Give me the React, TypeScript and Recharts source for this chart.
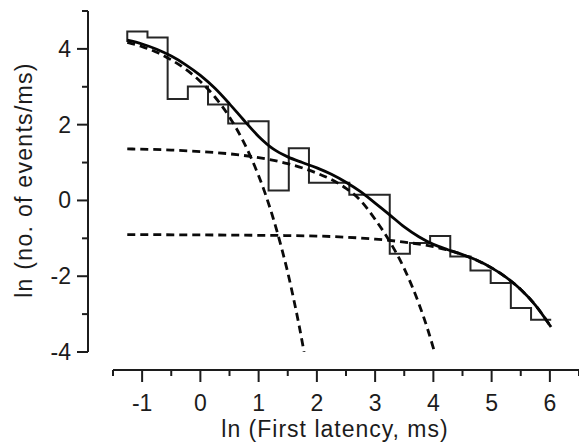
import React from 'react';
import { ComposedChart, Line, XAxis, YAxis } from 'recharts';

// Histogram (ln of events/ms per log bin)
const histEdges = [-1.255, -0.908, -0.562, -0.215, 0.131, 0.478, 0.824, 1.171, 1.518, 1.864, 2.211, 2.557, 2.904, 3.251, 3.597, 3.944, 4.29, 4.637, 4.984, 5.33, 5.677, 6.023];
const histValues = [4.46, 4.3, 2.68, 3.01, 2.53, 2.03, 2.09, 0.26, 1.38, 0.47, 0.47, 0.15, 0.15, -1.41, -1.12, -0.94, -1.48, -1.85, -2.18, -2.84, -3.15];
const histStart = 4.18;

// Total fit (solid)
const totalX = [-1.255, -1.0, -0.75, -0.5, -0.25, 0, 0.25, 0.5, 0.75, 1.0, 1.25, 1.5, 1.75, 2.0, 2.25, 2.5, 2.75, 3.0, 3.25, 3.5, 3.75, 4.0, 4.25, 4.5, 4.75, 5.0, 5.25, 5.5, 5.75, 6.02];
const totalY = [4.23, 4.13, 3.99, 3.81, 3.58, 3.3, 2.96, 2.55, 2.11, 1.69, 1.36, 1.15, 1.0, 0.86, 0.69, 0.48, 0.23, -0.07, -0.38, -0.7, -0.96, -1.16, -1.3, -1.43, -1.58, -1.78, -2.03, -2.35, -2.76, -3.34];

// Fast component (dashed)
const fastX = [-1.255, -1.0, -0.75, -0.5, -0.25, 0, 0.25, 0.5, 0.75, 1.0, 1.1, 1.25, 1.4, 1.5, 1.6, 1.7, 1.78];
const fastY = [4.17, 4.06, 3.91, 3.71, 3.46, 3.14, 2.73, 2.2, 1.52, 0.65, 0.24, -0.47, -1.29, -1.9, -2.59, -3.34, -4.0];

// Intermediate component (dashed)
const midX = [-1.255, -0.5, 0, 0.5, 1.0, 1.5, 2.0, 2.25, 2.5, 2.75, 3.0, 3.25, 3.5, 3.75, 3.9, 4.02];
const midY = [1.36, 1.33, 1.29, 1.23, 1.13, 0.97, 0.72, 0.55, 0.32, 0.0, -0.5, -1.08, -1.8, -2.72, -3.39, -4.0];

// Slow component (dashed)
const slowX = [-1.255, 0, 1, 2, 2.5, 3, 3.5, 4, 4.5, 5, 5.25, 5.5, 5.75, 6.02];
const slowY = [-0.9, -0.91, -0.92, -0.94, -0.97, -1.02, -1.1, -1.22, -1.43, -1.78, -2.03, -2.35, -2.76, -3.34];

// Ticks
const xTicks = [-1.5, -1, -0.5, 0, 0.5, 1, 1.5, 2, 2.5, 3, 3.5, 4, 4.5, 5, 5.5, 6, 6.5];
const yTicks = [-4, -3, -2, -1, 0, 1, 2, 3, 4, 5];

const xTitle = 'ln (First latency, ms)';
const yTitle = 'ln (no. of events/ms)';

const pairs = (xs: number[], ys: number[]) => xs.map((x, i) => ({ x, y: ys[i] }));

const histData = [
  { x: histEdges[0], y: histStart },
  ...histValues.map((v, i) => ({ x: histEdges[i], y: v })),
  { x: histEdges[histEdges.length - 1], y: histValues[histValues.length - 1] },
];
const totalData = pairs(totalX, totalY);
const fastData = pairs(fastX, fastY);
const midData = pairs(midX, midY);
const slowData = pairs(slowX, slowY);

const FONT = '"Liberation Sans", Arial, sans-serif';
const INK = '#1c1c1c';

const XTick = (props: any) => {
  const { x, y, payload } = props;
  const v = payload.value as number;
  const major = Number.isInteger(v);
  return (
    <g>
      <line x1={x} y1={y} x2={x} y2={y + (major ? 12 : 6)} stroke={INK} strokeWidth={2} />
      {major && (
        <text x={x} y={y + 41} textAnchor="middle" fontFamily={FONT} fontSize={23} fill={INK}>
          {String(v)}
        </text>
      )}
    </g>
  );
};

const YTick = (props: any) => {
  const { x, y, payload } = props;
  const v = payload.value as number;
  const major = v % 2 === 0;
  return (
    <g>
      <line x1={x - (major ? 11 : 6)} y1={y} x2={x} y2={y} stroke={INK} strokeWidth={2} />
      {major && (
        <text x={x - 17} y={y + 8} textAnchor="end" fontFamily={FONT} fontSize={23} fill={INK}>
          {String(v)}
        </text>
      )}
    </g>
  );
};

export default function App() {
  return (
    <div style={{ position: 'absolute', left: 0, top: 0, width: 579, height: 445, background: '#fff' }}>
      <ComposedChart width={579} height={445} margin={{ top: 11, right: 0, bottom: 0, left: 0 }}>
        <XAxis
          type="number"
          dataKey="x"
          domain={[-1.5, 6.5]}
          ticks={xTicks}
          interval={0}
          allowDataOverflow
          padding={{ left: 25, right: 0 }}
          height={75}
          tickSize={0}
          tickMargin={0}
          tickLine={false}
          tick={<XTick />}
          axisLine={{ stroke: INK, strokeWidth: 2, strokeDasharray: '0 25 1000' }}
          label={() => (
            <text x={335} y={437} textAnchor="middle" fontFamily={FONT} fontSize={23} letterSpacing={1} fill={INK}>
              {xTitle}
            </text>
          )}
        />
        <YAxis
          type="number"
          domain={[-4, 5]}
          ticks={yTicks}
          interval={0}
          allowDataOverflow
          padding={{ top: 0, bottom: 18 }}
          width={88}
          tickSize={0}
          tickMargin={0}
          tickLine={false}
          tick={<YTick />}
          axisLine={{ stroke: INK, strokeWidth: 2, strokeDasharray: '341 1000' }}
          label={() => (
            <text
              x={32}
              y={180}
              transform="rotate(-90, 32, 180)"
              textAnchor="middle"
              fontFamily={FONT}
              fontSize={23}
              letterSpacing={1.3}
              fill={INK}
            >
              {yTitle}
            </text>
          )}
        />
        <Line data={histData} dataKey="y" type="stepAfter" stroke="#262626" strokeWidth={2} dot={false} activeDot={false} isAnimationActive={false} />
        <Line data={fastData} dataKey="y" type="monotone" stroke="#0a0a0a" strokeWidth={2.8} strokeDasharray="8 5" dot={false} activeDot={false} isAnimationActive={false} />
        <Line data={midData} dataKey="y" type="monotone" stroke="#0a0a0a" strokeWidth={2.8} strokeDasharray="8 5" dot={false} activeDot={false} isAnimationActive={false} />
        <Line data={slowData} dataKey="y" type="monotone" stroke="#0a0a0a" strokeWidth={2.8} strokeDasharray="8 5" dot={false} activeDot={false} isAnimationActive={false} />
        <Line data={totalData} dataKey="y" type="monotone" stroke="#050505" strokeWidth={2.8} dot={false} activeDot={false} isAnimationActive={false} />
      </ComposedChart>
    </div>
  );
}
